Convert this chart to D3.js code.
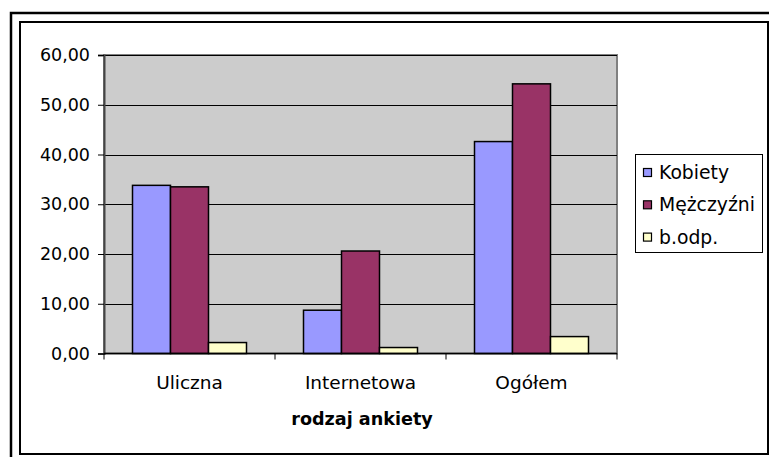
<!DOCTYPE html>
<html>
<head>
<meta charset="utf-8">
<script src="https://cdn.jsdelivr.net/npm/d3@7"></script>
<style>
  body { margin: 0; background: #fff; }
  svg { display: block; font-family: "DejaVu Sans", Verdana, sans-serif; }
</style>
</head>
<body>
<div id="container"></div>
<script>
// data
var categories = ["Uliczna", "Internetowa", "Ogółem"];
var seriesNames = ["Kobiety", "Mężczyźni", "b.odp."];
var kobiety = [33.8, 8.7, 42.6];
var mezczyzni = [33.5, 20.6, 54.2];
var bodp = [2.2, 1.2, 3.4];
var yTicks = [0, 10, 20, 30, 40, 50, 60];
var colors = ["#9999ff", "#993366", "#ffffcc"];

var seriesValues = [kobiety, mezczyzni, bodp];

var W = 769, H = 457;
var plot = {left: 104, right: 617, top: 55, bottom: 353.5};

var svg = d3.select("#container")
  .append("svg")
    .attr("width", W)
    .attr("height", H);

// frames
svg.append("rect")
    .attr("x", 11).attr("y", 13)
    .attr("width", 800).attr("height", 460)
    .attr("fill", "none").attr("stroke", "#000").attr("stroke-width", 2.5);
svg.append("rect")
    .attr("x", 20).attr("y", 22)
    .attr("width", 748).attr("height", 432)
    .attr("fill", "#fff").attr("stroke", "#000").attr("stroke-width", 2);

var x = d3.scaleBand()
    .domain(categories)
    .range([plot.left, plot.right]);

// Excel gap width 150%
var bw = x.bandwidth() / 4.5;
var xs = d3.scaleBand()
    .domain(seriesNames)
    .range([bw * 0.75, x.bandwidth() - bw * 0.75]);

var y = d3.scaleLinear()
    .domain([0, 60])
    .range([plot.bottom, plot.top]);

// plot area
svg.append("rect")
    .attr("x", plot.left).attr("y", plot.top)
    .attr("width", plot.right - plot.left)
    .attr("height", plot.bottom - plot.top)
    .attr("fill", "#cccccc")
    .attr("stroke", "#808080").attr("stroke-width", 2);

// gridlines
svg.append("g")
  .selectAll("line")
  .data(yTicks.filter(function(d) { return d > 0; }))
  .enter().append("line")
    .attr("x1", plot.left).attr("x2", plot.right)
    .attr("y1", function(d) { return Math.round(y(d)) + 0.5; })
    .attr("y2", function(d) { return Math.round(y(d)) + 0.5; })
    .attr("stroke", "#000").attr("stroke-width", 1.2);

// bars
var groups = svg.append("g")
  .selectAll("g")
  .data(seriesNames)
  .enter().append("g")
    .attr("fill", function(d, i) { return colors[i]; });

groups.selectAll("rect")
  .data(function(d, i) {
    return categories.map(function(c, j) { return {cat: c, key: d, value: seriesValues[i][j]}; });
  })
  .enter().append("rect")
    .attr("x", function(d) { return x(d.cat) + xs(d.key); })
    .attr("y", function(d) { return y(d.value); })
    .attr("width", xs.bandwidth())
    .attr("height", function(d) { return y(0) - y(d.value); })
    .attr("stroke", "#000")
    .attr("stroke-width", 1.5);

// y axis
var yAxis = svg.append("g")
    .attr("transform", "translate(" + plot.left + ",0)")
    .call(d3.axisLeft(y)
      .tickValues(yTicks)
      .tickSize(6)
      .tickPadding(8)
      .tickFormat(function(d) { return d3.format(".2f")(d).replace(".", ","); }));
yAxis.select(".domain").attr("stroke", "#444").attr("stroke-width", 2);
yAxis.selectAll("line").attr("stroke", "#000");
yAxis.selectAll("text")
    .attr("font-family", "DejaVu Sans")
    .attr("font-size", 17.5)
    .attr("fill", "#000");

// x axis
var xAxis = svg.append("g")
    .attr("transform", "translate(0," + plot.bottom + ")")
    .call(d3.axisBottom(x).tickSize(0).tickPadding(22));
xAxis.select(".domain").remove();
xAxis.selectAll("text")
    .attr("font-family", "DejaVu Sans")
    .attr("font-size", 18.5)
    .attr("fill", "#000");

// category separator ticks
svg.append("g")
  .selectAll("line")
  .data(categories.map(function(c) { return x(c); }).concat([plot.right]))
  .enter().append("line")
    .attr("x1", function(d) { return d; }).attr("x2", function(d) { return d; })
    .attr("y1", plot.bottom).attr("y2", plot.bottom + 6)
    .attr("stroke", "#000");
svg.append("line")
    .attr("x1", plot.left).attr("x2", plot.right)
    .attr("y1", plot.bottom).attr("y2", plot.bottom)
    .attr("stroke", "#000").attr("stroke-width", 1.5);

// axis title
svg.append("text")
    .attr("x", 362)
    .attr("y", 425)
    .attr("text-anchor", "middle")
    .attr("font-size", 17.6)
    .attr("font-weight", "bold")
    .text("rodzaj ankiety");

// legend
var legend = svg.append("g");
legend.append("rect")
    .attr("x", 635.5).attr("y", 154.5)
    .attr("width", 127).attr("height", 98)
    .attr("fill", "#fff").attr("stroke", "#000").attr("stroke-width", 1);

var li = legend.selectAll("g.item")
  .data(seriesNames)
  .enter().append("g")
    .attr("class", "item")
    .attr("transform", function(d, i) { return "translate(0," + (172.5 + i * 32.3) + ")"; });
li.append("rect")
    .attr("x", 643.5).attr("y", -4)
    .attr("width", 8).attr("height", 8)
    .attr("fill", function(d, i) { return colors[i]; })
    .attr("stroke", "#000").attr("stroke-width", 1.2);
li.append("text")
    .attr("x", 659)
    .attr("y", 0)
    .attr("dy", "0.35em")
    .attr("font-size", 18.8)
    .text(function(d) { return d; });
</script>
</body>
</html>
